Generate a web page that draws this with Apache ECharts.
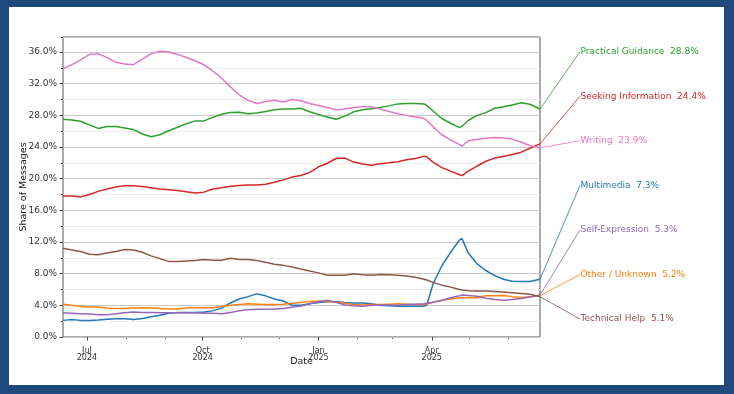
<!DOCTYPE html>
<html><head><meta charset="utf-8">
<script src="https://cdn.jsdelivr.net/npm/echarts@6/dist/echarts.min.js"></script>
<style>
html,body{margin:0;padding:0;background:#1f497d;width:734px;height:394px;overflow:hidden;}
#frame{position:absolute;left:9px;top:7px;width:715px;height:378px;background:#fff;}
#chart{position:absolute;left:0;top:0;width:734px;height:394px;}
</style></head><body>
<div id="frame"></div><div id="chart"></div>
<script>
const dates = ['2024-06-12','2024-06-19','2024-06-26','2024-07-03','2024-07-10','2024-07-17','2024-07-24','2024-07-31',
'2024-08-07','2024-08-14','2024-08-21','2024-08-28','2024-09-04','2024-09-11','2024-09-18','2024-09-25',
'2024-10-02','2024-10-09','2024-10-16','2024-10-23','2024-10-30','2024-11-06','2024-11-13','2024-11-20','2024-11-27',
'2024-12-04','2024-12-11','2024-12-18','2024-12-25','2025-01-01','2025-01-08','2025-01-15','2025-01-22','2025-01-29',
'2025-02-05','2025-02-12','2025-02-19','2025-02-26','2025-03-05','2025-03-12','2025-03-19','2025-03-26','2025-03-28',
'2025-04-02','2025-04-09','2025-04-16','2025-04-23','2025-04-25','2025-04-30','2025-05-07','2025-05-14','2025-05-21',
'2025-05-28','2025-06-04','2025-06-11','2025-06-18','2025-06-26'];

const multimedia = [2.1,2.2,2.1,2.1,2.15,2.25,2.3,2.3,2.2,2.35,2.55,2.75,3.0,3.1,3.1,3.1,3.15,3.3,3.65,4.3,4.8,5.1,5.45,5.2,4.8,4.55,4.0,4.0,4.2,4.35,4.45,4.45,4.35,4.3,4.3,4.2,4.0,3.95,3.9,3.9,3.9,3.9,4.0,6.7,9.0,10.7,12.25,12.45,10.6,9.25,8.4,7.75,7.3,7.05,7.0,7.0,7.3];
const otherUnknown = [4.15,4.0,3.9,3.8,3.8,3.65,3.6,3.6,3.65,3.7,3.65,3.6,3.55,3.55,3.65,3.7,3.7,3.7,3.85,4.0,4.1,4.2,4.15,4.1,4.1,4.15,4.25,4.35,4.5,4.55,4.5,4.4,4.25,4.1,4.05,4.1,4.1,4.15,4.2,4.15,4.1,4.1,4.15,4.4,4.6,4.8,4.95,4.95,4.95,4.95,5.2,5.2,5.25,5.1,5.0,5.1,5.2];
const practicalGuidance = [27.5,27.4,27.25,26.8,26.35,26.6,26.6,26.4,26.2,25.65,25.3,25.55,26.05,26.5,26.95,27.3,27.3,27.75,28.15,28.35,28.4,28.2,28.3,28.5,28.7,28.8,28.8,28.9,28.45,28.1,27.8,27.5,27.9,28.45,28.7,28.85,29.0,29.2,29.45,29.5,29.5,29.45,29.25,28.55,27.6,27.0,26.45,26.6,27.35,28.0,28.35,28.9,29.1,29.3,29.6,29.4,28.8];
const seekingInformation = [17.8,17.8,17.7,18.0,18.4,18.7,18.95,19.1,19.1,19.0,18.85,18.7,18.6,18.5,18.35,18.2,18.3,18.7,18.85,19.05,19.15,19.2,19.2,19.3,19.55,19.85,20.2,20.4,20.8,21.5,21.95,22.55,22.6,22.1,21.85,21.7,21.9,22.0,22.15,22.4,22.55,22.85,22.75,22.1,21.4,20.95,20.5,20.4,20.95,21.6,22.2,22.6,22.8,23.05,23.35,23.85,24.4];
const selfExpression = [3.05,3.0,2.95,2.9,2.8,2.8,2.95,3.05,3.15,3.1,3.1,3.05,3.05,3.05,3.05,3.05,3.0,3.0,2.95,3.1,3.3,3.45,3.5,3.5,3.55,3.6,3.75,3.9,4.2,4.45,4.65,4.4,4.05,3.95,3.9,4.0,4.05,4.05,4.0,4.1,4.15,4.2,4.25,4.4,4.65,4.95,5.2,5.3,5.25,5.15,4.9,4.75,4.65,4.75,4.85,5.05,5.3];
const technicalHelp = [11.2,11.0,10.8,10.45,10.4,10.6,10.8,11.05,11.0,10.7,10.25,9.9,9.55,9.55,9.6,9.65,9.8,9.7,9.7,9.95,9.8,9.8,9.65,9.45,9.2,9.05,8.85,8.6,8.35,8.1,7.8,7.8,7.8,8.0,7.85,7.8,7.9,7.85,7.8,7.7,7.55,7.3,7.2,6.9,6.55,6.3,6.0,5.95,5.85,5.8,5.8,5.75,5.7,5.6,5.5,5.4,5.1];
const writing = [33.9,34.4,35.0,35.7,35.8,35.3,34.7,34.5,34.4,35.1,35.8,36.1,36.0,35.7,35.3,34.9,34.4,33.6,32.7,31.6,30.6,29.9,29.5,29.75,29.9,29.7,30.0,29.85,29.5,29.25,29.0,28.7,28.8,29.0,29.1,29.1,28.8,28.5,28.2,28.0,27.8,27.6,27.4,26.55,25.55,24.9,24.3,24.1,24.8,24.95,25.1,25.2,25.15,25.0,24.6,24.2,23.9];

const seriesNames = ['Multimedia','Other / Unknown','Practical Guidance','Seeking Information','Self-Expression','Technical Help','Writing'];
const seriesColors = ['#1f77b4','#ff7f0e','#2ca02c','#d62728','#9467bd','#8c564b','#e377c2'];
const seriesValues = [multimedia, otherUnknown, practicalGuidance, seekingInformation, selfExpression, technicalHelp, writing];
const labelOrder = ['Practical Guidance','Seeking Information','Writing','Multimedia','Self-Expression','Other / Unknown','Technical Help'];
const majorTickDates = ['2024-07-01','2024-10-01','2025-01-01','2025-04-01'];
const minorTickDates = ['2024-08-01','2024-09-01','2024-11-01','2024-12-01','2025-02-01','2025-03-01','2025-05-01','2025-06-01'];
const monthNames = ['Jan','Feb','Mar','Apr','May','Jun','Jul','Aug','Sep','Oct','Nov','Dec'];

function ts(s){const p=s.split('-').map(Number);return new Date(p[0],p[1]-1,p[2]).getTime();}
const FONT = '"DejaVu Sans", sans-serif';
const G = {left:63, top:37, width:477, height:300};
const labelX = 580, labelTop = 51.7, labelStep = 44.55;
const xMin = ts(dates[0]), xMax = ts(dates[dates.length-1]);

const chart = echarts.init(document.getElementById('chart'), null, {renderer:'canvas'});

const series = seriesNames.map((name, i) => {
  const vals = seriesValues[i];
  const last = vals[vals.length-1];
  const slot = labelOrder.indexOf(name);
  return {
    name, type:'line', xAxisIndex:0, yAxisIndex:0,
    data: dates.map((d,j)=>[ts(d), vals[j]]),
    showSymbol:false, symbol:'none', clip:false,
    lineStyle:{color:seriesColors[i], width:1.5},
    itemStyle:{color:seriesColors[i]},
    emphasis:{disabled:true},
    markLine:{
      silent:true, symbol:['none','none'], animation:false,
      lineStyle:{color:seriesColors[i], width:0.8, type:'solid'},
      label:{show:false},
      data:[[{coord:[xMax, last]}, {x:labelX, y:labelTop + slot*labelStep}]]
    }
  };
});

const graphics = seriesNames.map((name,i) => {
  const vals = seriesValues[i];
  const slot = labelOrder.indexOf(name);
  return {
    type:'text', x:labelX + 0.5, y:labelTop + slot*labelStep, silent:true,
    style:{text: name + '  ' + vals[vals.length-1].toFixed(1) + '%', fill:seriesColors[i],
      fontSize:9, fontFamily:FONT, verticalAlign:'middle', align:'left'}
  };
});

chart.setOption({
  animation:false,
  backgroundColor:'transparent',
  grid:{left:G.left, top:G.top, width:G.width, height:G.height, show:true, borderColor:'#555', borderWidth:1, backgroundColor:'transparent', containLabel:false},
  xAxis:[{
    type:'value', min:xMin, max:xMax, position:'bottom', z:2,
    axisLine:{show:false},
    axisTick:{show:true, customValues:majorTickDates.map(ts), length:3.5, lineStyle:{color:'#444'}},
    axisLabel:{show:true, customValues:majorTickDates.map(ts), fontSize:8, lineHeight:7, color:'#333', margin:10, fontFamily:FONT,
      formatter:(v)=>{const d=new Date(v);return monthNames[d.getMonth()]+'\n'+d.getFullYear();}},
    splitLine:{show:false},
    name:'Date', nameLocation:'middle', nameGap:20, nameMoveOverlap:false,
    nameTextStyle:{fontSize:9.5, color:'#222', fontFamily:FONT}
  },{
    type:'value', min:xMin, max:xMax, position:'bottom', offset:0,
    axisLine:{show:false},
    axisTick:{show:true, customValues:minorTickDates.map(ts), length:2, lineStyle:{color:'#444'}},
    axisLabel:{show:false}, splitLine:{show:false}
  }],
  yAxis:[{
    type:'value', min:0, max:37.9, interval:4, position:'left', z:2,
    axisLine:{show:false},
    axisTick:{show:true, length:3.5, lineStyle:{color:'#444'}},
    axisLabel:{fontSize:9, color:'#333', margin:6, fontFamily:FONT, showMaxLabel:false,
      formatter:(v)=>v.toFixed(1)+'%'},
    splitLine:{show:true, lineStyle:{color:'#c9c9c9', width:1}},
    name:'Share of Messages', nameLocation:'middle', nameGap:34, nameRotate:90, nameMoveOverlap:false,
    nameTextStyle:{fontSize:9.5, color:'#222', fontFamily:FONT}
  },{
    type:'value', min:0, max:37.9, interval:2, position:'left', offset:0, z:0,
    axisLine:{show:false},
    axisTick:{show:true, length:2, lineStyle:{color:'#444'}},
    axisLabel:{show:false},
    splitLine:{show:true, lineStyle:{color:'#ececec', width:1}}
  }],
  graphic:graphics,
  series:series
});
</script>
</body></html>
